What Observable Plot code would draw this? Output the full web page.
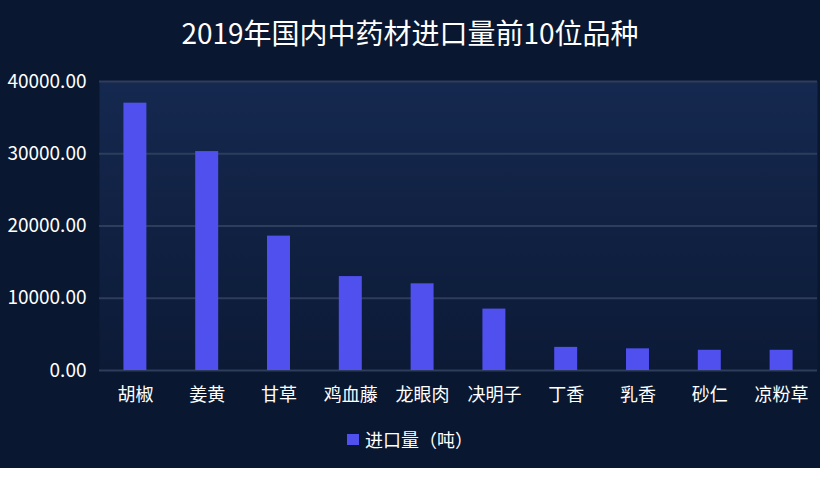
<!DOCTYPE html>
<html><head><meta charset="utf-8">
<script src="https://cdn.jsdelivr.net/npm/d3@7"></script>
<script src="https://cdn.jsdelivr.net/npm/@observablehq/plot@0.6"></script>
<style>
html,body{margin:0;padding:0;background:#fff;}
#chart{width:820px;height:468px;background:#0a1730;font-family:"Noto Sans CJK SC",sans-serif;color:#fff;overflow:hidden;}
#title{height:60px;line-height:64px;text-align:center;font-size:28px;}
#plot svg{display:block;}
#legend{height:38px;padding-bottom:10px;display:flex;align-items:center;justify-content:center;font-size:18px;}
#legend .sw{width:12px;height:11px;background:#4f50ee;margin-right:6px;}
</style></head>
<body>
<div id="chart">
  <div id="title">2019年国内中药材进口量前10位品种</div>
  <div id="plot"></div>
  <div id="legend"><span class="sw"></span><span id="legtext"></span></div>
</div>
<script>
const categories = ["胡椒","姜黄","甘草","鸡血藤","龙眼肉","决明子","丁香","乳香","砂仁","凉粉草"];
const values = [37000, 30300, 18600, 13000, 12000, 8500, 3200, 3000, 2800, 2800];
const yTicks = [0, 10000, 20000, 30000, 40000];
const seriesName = "进口量（吨）";

const data = categories.map((c, i) => ({name: c, value: values[i]}));
document.getElementById("legtext").textContent = seriesName;

const chart = Plot.plot({
  width: 820,
  height: 360,
  marginTop: 21,
  marginBottom: 50,
  marginLeft: 99,
  marginRight: 3,
  style: {background: "transparent", color: "#fff", fontFamily: "'Noto Sans CJK SC', sans-serif", fontSize: "18px"},
  x: {domain: categories, paddingInner: 0.68, paddingOuter: 0.34, round: false, label: null},
  y: {domain: [0, 40000], ticks: yTicks, label: null},
  marks: [
    Plot.frame({fill: "url(#plotbg)", stroke: "none"}),
    Plot.gridY(yTicks, {stroke: "#2e3d5c", strokeOpacity: 1, strokeWidth: 2}),
    Plot.barY(data, {x: "name", y: "value", fill: "#4f50ee"}),
    Plot.axisX({tickSize: 0, tickPadding: 18, fontSize: 18, fill: "#fff"}),
    Plot.axisY(yTicks, {tickSize: 0, tickPadding: 13, fontSize: 19, fill: "#fff", tickFormat: d => d.toFixed(2)})
  ]
});
const ns = "http://www.w3.org/2000/svg";
const defs = document.createElementNS(ns, "defs");
defs.innerHTML = '<linearGradient id="plotbg" x1="0" y1="0" x2="0" y2="1"><stop offset="0" stop-color="#15284f"/><stop offset="1" stop-color="#0c1a36"/></linearGradient>';
chart.insertBefore(defs, chart.firstChild);
document.getElementById("plot").appendChild(chart);
</script>
</body></html>
